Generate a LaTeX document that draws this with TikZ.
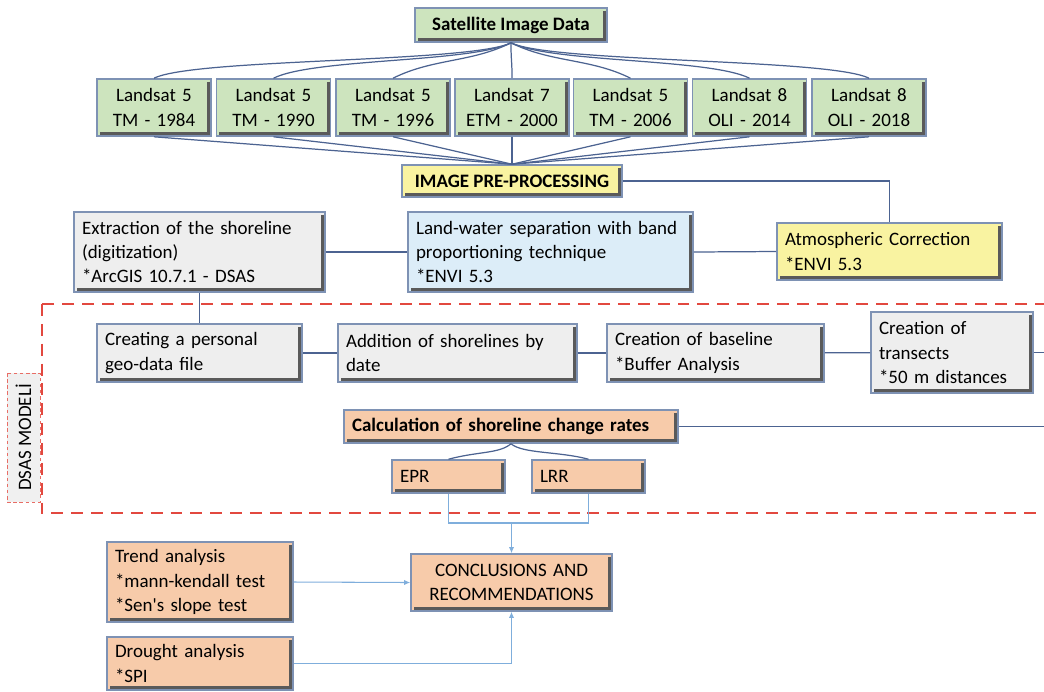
\documentclass[tikz,border=0pt]{standalone}
\usepackage{fontspec}
\setmainfont{Carlito}
\usepackage{tikz}
\usetikzlibrary{positioning, arrows.meta, calc}
\definecolor{satgreen}{HTML}{CDE4BE}
\definecolor{prepyellow}{HTML}{F9F3A1}
\definecolor{waterblue}{HTML}{DCEDF8}
\definecolor{stepgray}{HTML}{EEEEEE}
\definecolor{ratepeach}{HTML}{F7CBAA}
\definecolor{edgeblue}{HTML}{7E92B4}
\definecolor{edgedark}{HTML}{5A5A5A}
\definecolor{linkblue}{HTML}{4C6391}
\definecolor{arrowblue}{HTML}{7FAEDC}
\definecolor{dsasred}{HTML}{E2483F}

\begin{document}
\begin{tikzpicture}[x=0.02cm, y=-0.02cm, font=\fontsize{10.8}{13.9}\selectfont,
  stepbox/.style={draw=edgeblue, line width=0.9pt, inner xsep=0.16cm, inner ysep=0pt, align=left,
    path picture={\draw[edgedark, line width=1.6pt]
      ([shift={(-1.3pt,-1.5pt)}]path picture bounding box.north east)
      -- ([shift={(-1.3pt,1.3pt)}]path picture bounding box.south east)
      -- ([shift={(1.5pt,1.3pt)}]path picture bounding box.south west);}},
  landbox/.style={stepbox, fill=satgreen, align=center, text width=1.96cm, minimum height=1.14cm},
  boldtext/.style={font=\fontsize{10.8}{13.9}\selectfont\bfseries},
  link/.style={draw=linkblue, line width=0.7pt},
  flow/.style={draw=arrowblue, line width=0.6pt},
  flowarrow/.style={flow, -{Latex[length=3.5pt, width=3pt]}}]

  \useasboundingbox (0,0) rectangle (1044,691);
  \clip (0,0) rectangle (1044,691);

  % satellite data
  \node[stepbox, boldtext, fill=satgreen, align=center, minimum width=3.84cm, minimum height=0.68cm]
    (sat) at (511,25) {Satellite Image Data};
  \node[stepbox, boldtext, fill=prepyellow, align=center, minimum width=4.4cm, minimum height=0.64cm]
    (prep) at (512,181) {IMAGE PRE-PROCESSING};

  \foreach \i/\x/\s/\txt in {1/154/-1/{Landsat 5\\TM - 1984}, 2/273.5/-1/{Landsat 5\\TM - 1990},
      3/393/-1/{Landsat 5\\TM - 1996}, 4/512/0/{Landsat 7\\ETM - 2000},
      5/630.5/1/{Landsat 5\\TM - 2006}, 6/749.5/1/{Landsat 8\\OLI - 2014},
      7/869/1/{Landsat 8\\OLI - 2018}} {
    \node[landbox] (ls\i) at (\x,107.5) {\txt};
    \draw[link] (sat.south) .. controls +(\s*40,20) and +(-\s*40,-20) .. (ls\i.north);
    \draw[link] (ls\i.south) -- (prep.north);
  }

  % pre-processing
  \node[stepbox, fill=stepgray, text width=4.7cm, minimum height=1.6cm] (extract) at (199.5,252)
    {Extraction of the shoreline\\(digitization)\\{*}ArcGIS 10.7.1 - DSAS};
  \node[stepbox, fill=waterblue, text width=5.38cm, minimum height=1.6cm] (water) at (550.5,252)
    {Land-water separation with band\\proportioning technique\\{*}ENVI 5.3};
  \node[stepbox, fill=prepyellow, text width=4.18cm, minimum height=1.14cm] (atmos) at (889.5,251.5)
    {Atmospheric Correction\\{*}ENVI 5.3};
  \draw[link] (prep.east) -| (atmos.north);
  \draw[link] (atmos.west) -- (water.east);
  \draw[link] (water.west) -- (extract.east);

  % DSAS model frame
  \draw[dsasred, line width=1.6pt, dash pattern=on 6.8pt off 4.5pt] (42,304) rectangle (1070,513);
  \node[draw=dsasred!80, dash pattern=on 2pt off 1.5pt, line width=0.5pt, fill=gray!12, rotate=90,
        minimum width=2.58cm, minimum height=0.66cm, inner sep=0pt] (dsas) at (23.5,437.5) {DSAS MODELİ};

  \node[stepbox, fill=stepgray, text width=3.78cm, minimum height=1.16cm] (geodata) at (199.5,353)
    {Creating a personal\\geo-data file};
  \node[stepbox, fill=stepgray, text width=4.46cm, minimum height=1.16cm] (dates) at (457.5,353)
    {Addition of shorelines by\\date};
  \node[stepbox, fill=stepgray, text width=4.02cm, minimum height=1.16cm] (baseline) at (715.5,353)
    {Creation of baseline\\{*}Buffer Analysis};
  \node[stepbox, fill=stepgray, text width=2.92cm, minimum height=1.62cm] (transects) at (952,352.5)
    {Creation of\\transects\\{*}50 m distances};
  \coordinate (transout) at (1044,352.5);
  \draw[link] (extract.south) -- (geodata.north);
  \draw[link] (geodata) -- (dates);
  \draw[link] (dates) -- (baseline);
  \draw[link] (baseline) -- (transects);
  \draw[link] (transects.east) -- (transout);

  \node[stepbox, boldtext, fill=ratepeach, text width=6.36cm, minimum height=0.66cm] (rates) at (511,426.5)
    {Calculation of shoreline change rates};
  \coordinate (rateout) at (1044,426.5);
  \draw[link] (rates.east) -- (rateout);
  \node[stepbox, fill=ratepeach, text width=1.94cm, minimum height=0.66cm] (epr) at (448.5,476.5) {EPR};
  \node[stepbox, fill=ratepeach, text width=1.94cm, minimum height=0.66cm] (lrr) at (588.5,476.5) {LRR};
  \draw[link] (rates.south) .. controls +(-12,10) and +(30,-8) .. (epr.north);
  \draw[link] (rates.south) .. controls +(12,10) and +(-30,-8) .. (lrr.north);

  % results
  \node[stepbox, fill=ratepeach, align=center, text width=3.7cm, minimum height=1.14cm] (concl) at (511.5,582.5)
    {CONCLUSIONS AND\\RECOMMENDATIONS};
  \node[stepbox, fill=ratepeach, text width=3.4cm, minimum height=1.6cm] (trend) at (200,582)
    {Trend analysis\\{*}mann-kendall test\\{*}Sen\textquotesingle s slope test};
  \node[stepbox, fill=ratepeach, text width=3.4cm, minimum height=1.06cm] (drought) at (200,663.5)
    {Drought analysis\\{*}SPI};
  \coordinate (join) at (511.5,523);
  \draw[flow] (epr.south) |- (join) -| (lrr.south);
  \draw[flowarrow] (join) -- (concl.north);
  \draw[flowarrow] (trend.east) -- (concl.west);
  \draw[flowarrow] (drought.east) -| (concl.south);
\end{tikzpicture}
\end{document}
